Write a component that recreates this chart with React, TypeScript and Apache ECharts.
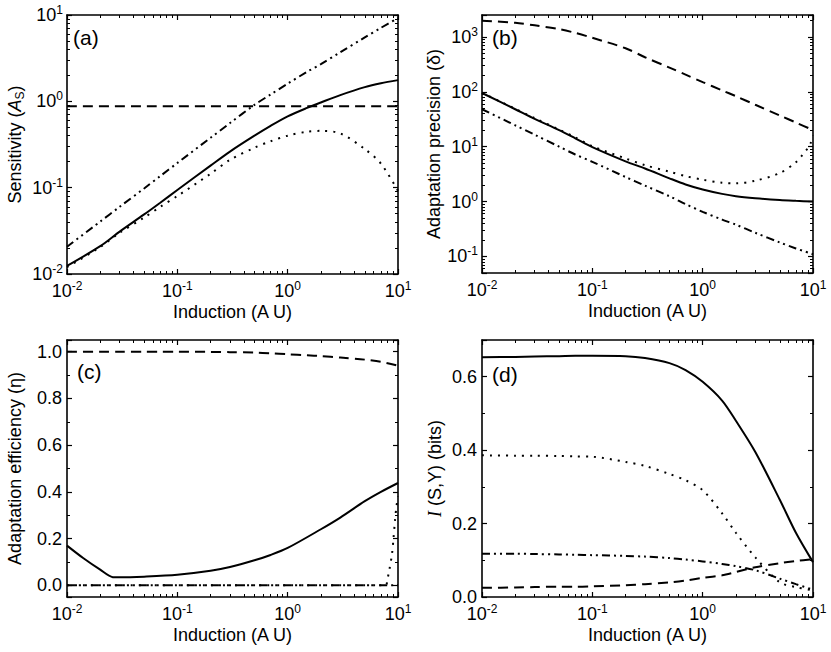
import React, { useEffect, useRef } from 'react';
import * as echarts from 'echarts';

// Shared induction grid
const X = [0.01, 0.02, 0.03, 0.05, 0.07, 0.1, 0.2, 0.3, 0.5, 0.7, 1, 1.5, 2, 3, 5, 7, 10];

// Panel (a) Sensitivity
const aSolid = [0.0124, 0.021, 0.031, 0.049, 0.067, 0.094, 0.18, 0.262, 0.40, 0.52, 0.67, 0.84, 0.97, 1.18, 1.46, 1.62, 1.76];
const aDotted = [0.012, 0.0205, 0.030, 0.045, 0.060, 0.080, 0.145, 0.21, 0.29, 0.345, 0.40, 0.445, 0.455, 0.425, 0.28, 0.19, 0.092];
const aDashDot = [0.0207, 0.0405, 0.060, 0.098, 0.136, 0.193, 0.378, 0.56, 0.91, 1.2, 1.6, 2.2, 2.7, 3.7, 5.5, 7.1, 9.2];
const aDashedX = [0.01, 10];
const aDashed = [0.88, 0.88];

// Panel (b) Adaptation precision
const bDashed = [1970, 1800, 1620, 1380, 1180, 960, 620, 425, 275, 205, 150, 106, 83, 58, 37, 27.5, 20];
const bSolid = [95, 48, 32, 20, 14.2, 9.8, 5.4, 4.0, 2.65, 2.05, 1.66, 1.38, 1.25, 1.15, 1.065, 1.03, 1.0];
const bDottedX = [0.01, 0.02, 0.03, 0.05, 0.07, 0.1, 0.2, 0.3, 0.5, 0.7, 1, 1.5, 2, 3, 5, 7, 8, 9, 9.5, 10];
const bDotted = [96, 49, 33, 20.5, 14.8, 10.2, 6.1, 4.6, 3.5, 2.9, 2.5, 2.2, 2.15, 2.4, 3.3, 5.2, 7, 9.5, 11.5, 16];
const bDashDot = [48, 24.5, 16.5, 10.0, 7.2, 5.3, 2.8, 1.95, 1.25, 0.9, 0.65, 0.47, 0.38, 0.27, 0.18, 0.14, 0.11];

// Panel (c) Adaptation efficiency
const cDashed = [1.0, 1.0, 1.0, 1.0, 1.0, 1.0, 0.999, 0.998, 0.996, 0.993, 0.989, 0.985, 0.981, 0.975, 0.966, 0.957, 0.94];
const cSolidX = [0.01, 0.014, 0.02, 0.026, 0.03, 0.05, 0.1, 0.2, 0.3, 0.5, 0.7, 1, 2, 3, 5, 7, 10];
const cSolid = [0.17, 0.117, 0.067, 0.035, 0.034, 0.037, 0.045, 0.062, 0.078, 0.107, 0.13, 0.16, 0.24, 0.29, 0.36, 0.40, 0.438];
const cDashDotX = [0.01, 10];
const cDashDot = [0, 0];
const cDottedX = [0.01, 7.7, 8.0, 8.3, 8.8, 9.1, 9.4, 9.7, 10];
const cDotted = [0, 0, 0.024, 0.06, 0.13, 0.2, 0.28, 0.34, 0.38];

// Panel (d) Mutual information
const dSolid = [0.653, 0.654, 0.655, 0.656, 0.657, 0.657, 0.656, 0.651, 0.637, 0.618, 0.586, 0.535, 0.48, 0.395, 0.265, 0.175, 0.095];
const dDotted = [0.386, 0.385, 0.385, 0.384, 0.383, 0.382, 0.368, 0.357, 0.335, 0.318, 0.291, 0.228, 0.175, 0.108, 0.04, 0.027, 0.018];
const dDashDot = [0.118, 0.118, 0.117, 0.116, 0.115, 0.114, 0.112, 0.11, 0.106, 0.102, 0.097, 0.09, 0.084, 0.073, 0.05, 0.035, 0.02];
const dDashed = [0.025, 0.026, 0.027, 0.028, 0.028, 0.029, 0.032, 0.035, 0.04, 0.045, 0.052, 0.059, 0.068, 0.081, 0.092, 0.098, 0.103];

const xTitle = 'Induction (A U)';
const panelLabels = ['(a)', '(b)', '(c)', '(d)'];

const FONT = 'Arial';
const SERIF = 'Times New Roman';
const FS = 18;

const pairs = (xs: number[], ys: number[]) => xs.map((x, i) => [x, ys[i]]);

const supRich = {
  b: { fontSize: FS, fontFamily: FONT, color: '#000', lineHeight: 22 },
  s: { fontSize: 12, fontFamily: FONT, color: '#000', lineHeight: 12, verticalAlign: 'top' },
};

function logLabel(v: number) {
  const l = Math.log10(v);
  const e = Math.round(l);
  if (Math.abs(l - e) > 1e-6) return '';
  return `{b|10}{s|${e}}`;
}

function linLabel(v: number) {
  const k = v / 0.2;
  if (Math.abs(k - Math.round(k)) > 1e-6) return '';
  return v.toFixed(1);
}

const axisLine = { show: true, onZero: false, lineStyle: { color: '#000', width: 1.6 } };
const axisTick = { show: true, inside: true, length: 5, lineStyle: { color: '#000', width: 1.2 } };
const minorLog = { show: true, splitNumber: 9, length: 3, lineStyle: { color: '#000', width: 1 } };
const minorLin = { show: true, splitNumber: 2, length: 3, lineStyle: { color: '#000', width: 1 } };

const grids = [
  { left: 67, top: 15, width: 331, height: 259 },
  { left: 482, top: 15, width: 331, height: 258 },
  { left: 67, top: 340, width: 331, height: 257 },
  { left: 482, top: 340, width: 331, height: 257 },
];

const yNames = [
  '{n|Sensitivity (}{i|A}{sub|S}{n|)}',
  '{n|Adaptation precision (δ)}',
  '{n|Adaptation efficiency (η)}',
  '{it|I}{n| (S,Y) (bits)}',
];
const nameRich = {
  n: { fontSize: FS, fontFamily: FONT, color: '#000', lineHeight: 22 },
  i: { fontSize: FS, fontFamily: FONT, fontStyle: 'italic', color: '#000', lineHeight: 22 },
  sub: { fontSize: 12, fontFamily: FONT, color: '#000', lineHeight: 12, verticalAlign: 'bottom' },
  it: { fontSize: FS, fontFamily: SERIF, fontStyle: 'italic', color: '#000', lineHeight: 22 },
};

type YCfg = { type: 'log' | 'value'; min: number; max: number; interval?: number };
const yCfgs: YCfg[] = [
  { type: 'log', min: 0.01, max: 10 },
  { type: 'log', min: 0.05, max: 2500 },
  { type: 'value', min: -0.05, max: 1.05 },
  { type: 'value', min: 0, max: 0.7, interval: 0.2 },
];
const yNameGaps = [41, 36, 41, 36];

function buildOption() {
  const xAxis: any[] = [];
  const yAxis: any[] = [];
  grids.forEach((_, g) => {
    const base = { type: 'log', logBase: 10, min: 0.01, max: 10, gridIndex: g, splitLine: { show: false }, axisLine, axisTick, minorTick: minorLog };
    xAxis.push({
      ...base,
      position: 'bottom',
      axisLabel: { formatter: logLabel, rich: supRich, margin: 6 },
      name: xTitle,
      nameLocation: 'middle',
      nameGap: 29,
      nameTextStyle: { fontSize: FS, fontFamily: FONT, color: '#000' },
    });
    xAxis.push({ ...base, position: 'top', axisLabel: { show: false } });

    const c = yCfgs[g];
    const isLog = c.type === 'log';
    const ybase: any = {
      type: c.type,
      min: c.min,
      max: c.max,
      gridIndex: g,
      splitLine: { show: false },
      axisLine,
      axisTick,
      minorTick: isLog ? minorLog : minorLin,
    };
    if (isLog) ybase.logBase = 10;
    if (c.interval) ybase.interval = c.interval;
    yAxis.push({
      ...ybase,
      position: 'left',
      axisLabel: isLog
        ? { formatter: logLabel, rich: supRich, margin: 4 }
        : { formatter: linLabel, fontSize: FS, fontFamily: FONT, color: '#000', margin: 5 },
      name: yNames[g],
      nameLocation: 'middle',
      nameGap: yNameGaps[g],
      nameTextStyle: { rich: nameRich },
    });
    yAxis.push({ ...ybase, position: 'right', axisLabel: { show: false } });
  });

  const solid = { color: '#000', width: 2, type: 'solid' };
  const dashed = { color: '#000', width: 2, type: [10, 6] };
  const dotted = { color: '#000', width: 2, type: [2, 6] };
  const dashDot = { color: '#000', width: 2, type: [8, 4, 2, 4, 2, 4] };

  const mk = (g: number, data: number[][], lineStyle: any, z = 2) => ({
    type: 'line',
    xAxisIndex: 2 * g,
    yAxisIndex: 2 * g,
    data,
    symbol: 'none',
    showSymbol: false,
    smooth: 0.3,
    silent: true,
    lineStyle,
    z,
  });

  const series = [
    mk(0, pairs(aDashedX, aDashed), dashed),
    mk(0, pairs(X, aDotted), dotted),
    mk(0, pairs(X, aDashDot), dashDot),
    mk(0, pairs(X, aSolid), solid, 3),

    mk(1, pairs(X, bDashed), dashed),
    mk(1, pairs(bDottedX, bDotted), dotted),
    mk(1, pairs(X, bDashDot), dashDot),
    mk(1, pairs(X, bSolid), solid, 3),

    mk(2, pairs(X, cDashed), dashed),
    mk(2, pairs(cDottedX, cDotted), dotted),
    mk(2, pairs(cDashDotX, cDashDot), dashDot),
    mk(2, pairs(cSolidX, cSolid), solid, 3),

    mk(3, pairs(X, dDashed), dashed),
    mk(3, pairs(X, dDotted), dotted),
    mk(3, pairs(X, dDashDot), dashDot),
    mk(3, pairs(X, dSolid), solid, 3),
  ];

  const labelPos = [
    [73, 27],
    [492, 27],
    [77, 361],
    [492, 364],
  ];
  const graphic = panelLabels.map((t, i) => ({
    type: 'text',
    left: labelPos[i][0],
    top: labelPos[i][1],
    style: { text: t, fontSize: 21, fontFamily: FONT, fill: '#000' },
    z: 10,
  }));

  return {
    animation: false,
    backgroundColor: '#fff',
    grid: grids.map((g) => ({ ...g, containLabel: false })),
    xAxis,
    yAxis,
    series,
    graphic,
  };
}

export default function App() {
  const ref = useRef<HTMLDivElement>(null);
  useEffect(() => {
    document.body.style.margin = '0';
    if (!ref.current) return;
    const chart = echarts.init(ref.current, undefined, { renderer: 'svg' });
    chart.setOption(buildOption() as any);
    return () => chart.dispose();
  }, []);
  return <div ref={ref} style={{ width: 831, height: 652 }} />;
}
